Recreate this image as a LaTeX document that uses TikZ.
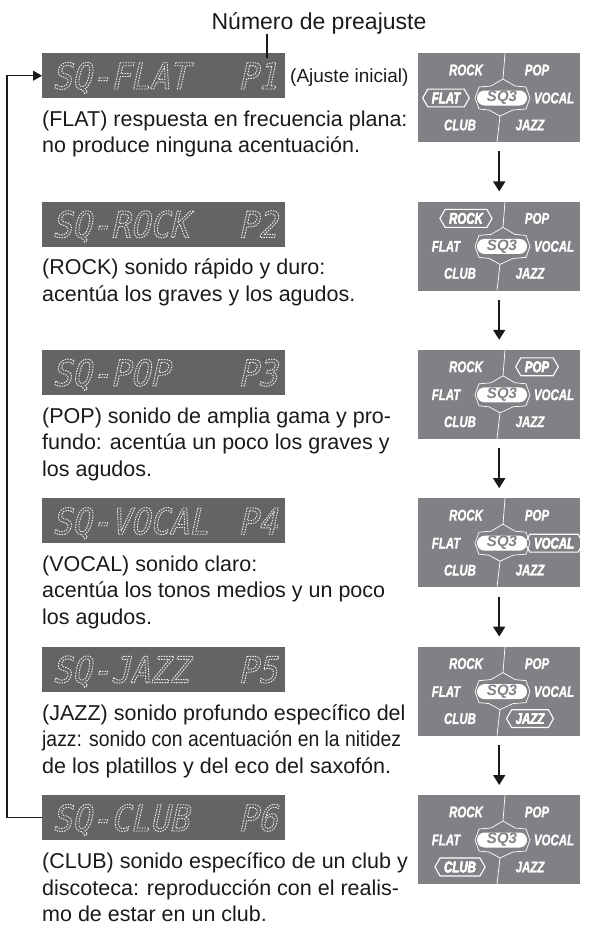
\documentclass[tikz,border=0pt]{standalone}
\usepackage{fontspec}
\setmainfont{Liberation Sans}
\newfontfamily\panelfont{Liberation Sans}[FakeStretch=0.74,FakeBold=1.2]
\newfontfamily\lcdfont{DejaVu Sans Mono}[FakeSlant=0.22,FakeStretch=0.9]
\usepackage{tikz}
\usetikzlibrary{arrows.meta,calc,positioning,shapes.symbols,shapes.misc}
\definecolor{Ink}{HTML}{1A1A1A}
\definecolor{Display}{HTML}{646464}
\definecolor{Panel}{HTML}{808184}
\definecolor{Segment}{HTML}{F0F0F0}
% dotted outline glyphs for the display windows
\newcommand\segtext[1]{\special{pdf:literal direct 1 Tr 0.9 w [1.5 1.1] 0 d}#1\special{pdf:literal direct 0 Tr [] 0 d}}

\begin{document}
\begin{tikzpicture}[x=1pt,y=-1pt,
  lcd/.style={anchor=north west,fill=Display,minimum width=243pt,minimum height=45pt,inner sep=0pt},
  lcdtext/.style={anchor=base west,inner sep=0pt,font=\lcdfont\fontsize{36}{36}\selectfont,text=Segment},
  desc/.style={anchor=north west,align=left,inner sep=0pt,font=\fontsize{21.5}{26.5}\selectfont,text=Ink},
  note/.style={anchor=base,inner sep=0pt,text=Ink},
  panel/.style={anchor=north west,fill=Panel,minimum width=162pt,minimum height=89pt,inner sep=0pt},
  mode/.style={inner sep=0pt,font=\panelfont\bfseries\itshape\fontsize{15.5}{15.5}\selectfont,text=white},
  selbox/.style={mode,draw=white,line width=1.1pt,shape=signal,signal to=west and east,
    signal pointer angle=120,inner xsep=4pt,inner ysep=3.5pt},
  pill/.style={shape=rounded rectangle,fill=white,text=Panel,minimum width=50pt,minimum height=15pt,
    inner sep=0pt,font=\bfseries\itshape\fontsize{15}{15}\selectfont},
  needle/.style={white,line width=0.7pt},
  next/.style={-{Triangle[length=10pt,width=12pt]},line width=1.8pt,Ink},
  back/.style={-{Triangle[length=9pt,width=10pt]},line width=1.1pt,Ink},
  tick/.style={line width=1.8pt,Ink}
]
\useasboundingbox (0,0) rectangle (589,932);

% Display windows, one per preset.
\foreach \mode/\num [count=\i from 0] in {FLAT/1,ROCK/2,POP/3,VOCAL/4,JAZZ/5,CLUB/6} {
  \node[lcd] (lcd\num) at (42,{53+148.4*\i}) {};
  \node[lcdtext] at ($(lcd\num.north west)+(10,36)$) {\segtext{SQ-\mode}};
  \node[lcdtext] at ($(lcd\num.north west)+(196,36)$) {\segtext{P\num}};
}

% Preset number callout.
\node[note,font=\fontsize{23}{23}\selectfont] (preset) at (319,29) {Número de preajuste};
\coordinate (p1mark) at (267,58);
\draw[tick] (p1mark |- preset.south) -- (p1mark);
\node[note,anchor=base west,font=\fontsize{19}{19}\selectfont] (initial) at (290,82) {(Ajuste inicial)};

% Descriptions.
\node[desc] (txt1) at ($(lcd1.north west)+(0,57.5)$)
  {(FLAT) respuesta en frecuencia plana:\\no produce ninguna acentuación.};
\node[desc] (txt2) at ($(lcd2.north west)+(0,57.5)$)
  {(ROCK) sonido rápido y duro:\\acentúa los graves y los agudos.};
\node[desc] (txt3) at ($(lcd3.north west)+(0,57.5)$)
  {(POP) sonido de amplia gama y pro-\\fundo: acentúa un poco los graves y\\los agudos.};
\node[desc] (txt4) at ($(lcd4.north west)+(0,57.5)$)
  {(VOCAL) sonido claro:\\acentúa los tonos medios y un poco\\los agudos.};
\node[desc] (txt5) at ($(lcd5.north west)+(0,57.5)$)
  {(JAZZ) sonido profundo específico del\\%
   \scalebox{0.9}[1]{jazz: sonido con acentuación en la nitidez}\\%
   de los platillos y del eco del saxofón.};
\node[desc] (txt6) at ($(lcd6.north west)+(0,57.5)$)
  {(CLUB) sonido específico de un club y\\discoteca: reproducción con el realis-\\mo de estar en un club.};

% Return from the last preset to the first.
\draw[back] (lcd6.west) -- ++(-35,0) |- (lcd1.west);

% Mode indicator panels.
\foreach \sel [count=\i from 0] in {FLAT,ROCK,POP,VOCAL,JAZZ,CLUB} {
  \node[panel] (panel\i) at (418,{53+148.4*\i}) {};
  \begin{scope}[shift={(panel\i.north west)}]
    \draw[needle] (87,0) -- (85,26) -- (97,33) -- (108,34) -- (112,45) -- (108,56)
      -- (95,57) -- (82,63) -- (79,89);
    \draw[needle] (85,26) -- (73,33) -- (61,34) -- (57,45) -- (61,56) -- (71,57) -- (82,63);
    \node[mode] (ROCK) at (48,17) {ROCK};
    \node[mode] (POP) at (119,17) {POP};
    \node[mode] (FLAT) at (28,45) {FLAT};
    \node[mode] (VOCAL) at (136,45) {VOCAL};
    \node[mode] (CLUB) at (42,72) {CLUB};
    \node[mode] (JAZZ) at (112,72) {JAZZ};
    \node[pill] (SQ3) at (84,45) {SQ3};
    \node[selbox] at (\sel) {\sel};
  \end{scope}
}

\foreach \a in {0,...,4} {
  \pgfmathtruncatemacro\b{\a+1}
  \draw[next] ([yshift=-9pt]panel\a.south) -- ([yshift=10pt]panel\b.north);
}
\end{tikzpicture}
\end{document}
